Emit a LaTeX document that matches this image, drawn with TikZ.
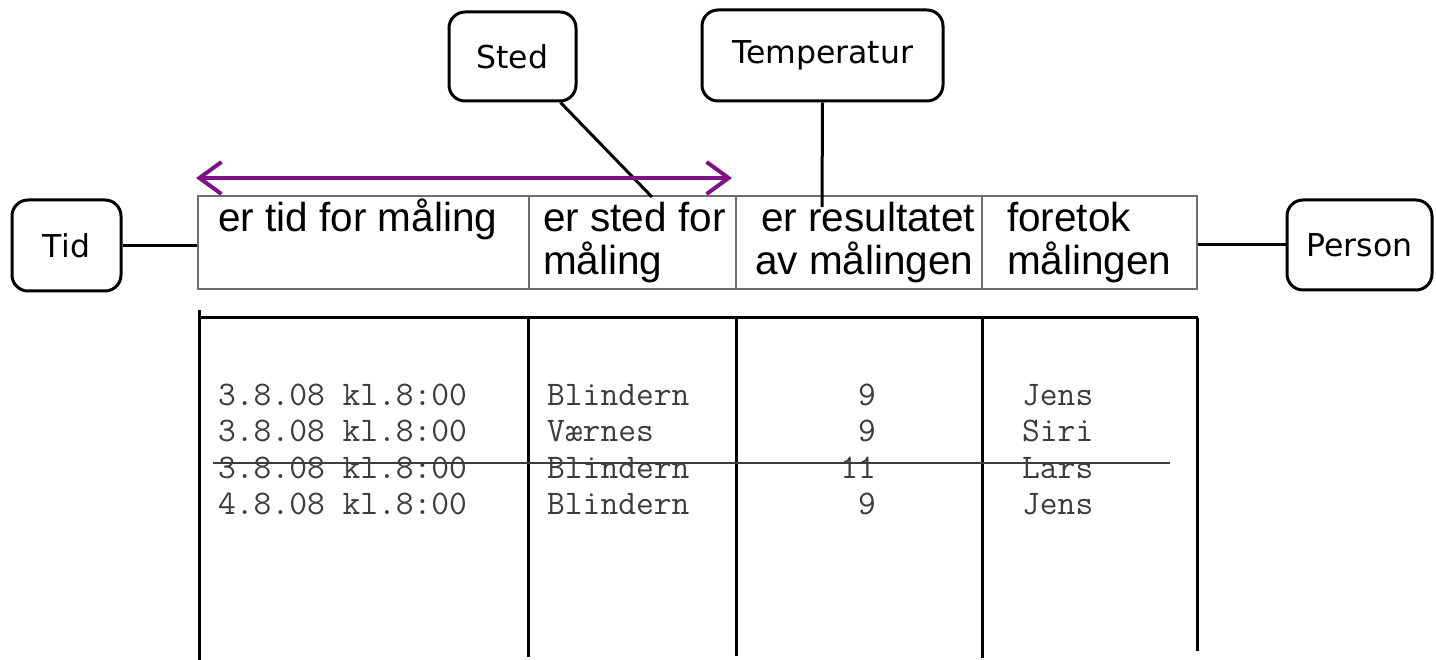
\documentclass[tikz,border=0pt]{standalone}
\usepackage{fontspec}
\setmainfont{Liberation Sans}
\newfontfamily\boxfont{DejaVu Sans}
\usetikzlibrary{arrows.meta,calc}
\definecolor{arrowpurple}{RGB}{128,16,136}
\definecolor{datagray}{RGB}{60,60,60}
\definecolor{hdrgray}{RGB}{110,110,110}
\begin{document}
\begin{tikzpicture}[x=1pt,y=-1pt,
  entity/.style={draw, line width=3pt, rounded corners=16pt, inner sep=0pt, font=\boxfont\fontsize{31.5}{36}\selectfont},
  link/.style={line width=3pt},
  hdrtext/.style={anchor=base west, inner sep=0pt, font=\fontsize{40.5}{48}\selectfont},
  datatext/.style={anchor=base west, inner sep=0pt, text=datagray, font=\ttfamily\fontsize{34.5}{40}\selectfont},
  datanum/.style={datatext, anchor=base east},
  tablerule/.style={line width=3pt},
  divider/.style={draw=hdrgray, line width=1.2pt}]
\useasboundingbox (0,0) rectangle (1436,660);

% entity boxes
\node[entity, minimum width=109pt, minimum height=91pt] (tid) at (66.5,245.5) {Tid};
\node[entity, minimum width=145pt, minimum height=90pt] (person) at (1359.5,245) {Person};
\node[entity, minimum width=127pt, minimum height=89pt] (sted) at (512.5,56.5) {Sted};
\node[entity, minimum width=241pt, minimum height=91pt] (temp) at (822.5,55.5) {Temperatur};

% header
\node[divider, draw, minimum width=999pt, minimum height=93pt, inner sep=0pt] (hdr) at (697.5,242.5) {};
\draw[divider] (hdr.north -| 529,0) -- (hdr.south -| 529,0);
\draw[divider] (hdr.north -| 736,0) -- (hdr.south -| 736,0);
\draw[divider] (hdr.north -| 982,0) -- (hdr.south -| 982,0);

\node[hdrtext] (h1) at (218,232) {er tid for måling};
\node[hdrtext] (h2a) at (543,232) {er sted for};
\node[hdrtext] (h2b) at (543,275) {måling};
\node[hdrtext] (h3a) at (761,232) {er resultatet};
\node[hdrtext] (h3b) at (755,275) {av målingen};
\node[hdrtext] (h4a) at (1007,232) {foretok};
\node[hdrtext] (h4b) at (1007,275) {målingen};

% connectors
\coordinate (stedend) at (652,197);
\coordinate (tempend) at (822,207);
\draw[link] (tid.east) -- (tid.east -| hdr.west);
\draw[link] (person.west -| hdr.east) -- (person.west);
\draw[link] ($(sted.south)+(48,0)$) -- (stedend);
\draw[link] (temp.south) -- (tempend);

% purple double arrow
\coordinate (arrL) at (196,178);
\coordinate (arrR) at (732,178);
\draw[arrowpurple, line width=4pt, {Straight Barb[length=22pt,width=32pt]}-{Straight Barb[length=22pt,width=32pt]}] (arrL) -- (arrR);

% table
\draw[tablerule] (198,318) -- (1198,318);
\draw[tablerule] (199,310) -- (199,660);
\draw[tablerule] (528,318) -- (528,657);
\draw[tablerule] (736,318) -- (736,656);
\draw[tablerule] (982,318) -- (982,658);
\draw[tablerule] (1197,318) -- (1197,651);

% data rows
\node[datatext] (r1a) at (218,406) {3.8.08 kl.8:00};
\node[datatext] (r1b) at (547,406) {Blindern};
\node[datanum]  (r1c) at (876,406) {9};
\node[datatext] (r1d) at (1022,406) {Jens};

\node[datatext] (r2a) at (218,442) {3.8.08 kl.8:00};
\node[datatext] (r2b) at (547,442) {Værnes};
\node[datanum]  (r2c) at (876,442) {9};
\node[datatext] (r2d) at (1022,442) {Siri};

\node[datatext] (r3a) at (218,478) {3.8.08 kl.8:00};
\node[datatext] (r3b) at (547,478) {Blindern};
\node[datanum]  (r3c) at (876,478) {11};
\node[datatext] (r3d) at (1022,478) {Lars};

\node[datatext] (r4a) at (218,514) {4.8.08 kl.8:00};
\node[datatext] (r4b) at (547,514) {Blindern};
\node[datanum]  (r4c) at (876,514) {9};
\node[datatext] (r4d) at (1022,514) {Jens};

% strike-through
\draw[draw=datagray, line width=1.5pt] (213,463) -- (1170,463);
\end{tikzpicture}
\end{document}
